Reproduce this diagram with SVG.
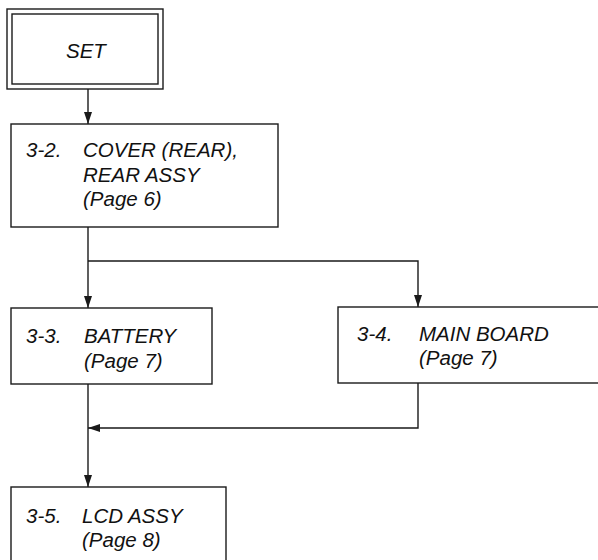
<svg xmlns="http://www.w3.org/2000/svg" width="598" height="560" viewBox="0 0 598 560">
<style>
.box{fill:#fff;stroke:#1a1a1a;stroke-width:1.4}
.ln{fill:none;stroke:#1a1a1a;stroke-width:1.4}
text{font-family:"Liberation Sans",Arial,sans-serif;font-style:italic;font-size:20.5px;fill:#111}
</style>
<defs>
<marker id="ah" markerUnits="userSpaceOnUse" markerWidth="12" markerHeight="8" refX="12" refY="4" orient="auto">
<path d="M0,0 L12,4 L0,8 Z" fill="#1a1a1a"/>
</marker>
</defs>
<g id="connectors">
<path class="ln" d="M88 89 V124" marker-end="url(#ah)"/>
<path class="ln" d="M88 227 V308" marker-end="url(#ah)"/>
<path class="ln" d="M88 261 H418 V307" marker-end="url(#ah)"/>
<path class="ln" d="M88 384 V487" marker-end="url(#ah)"/>
<path class="ln" d="M418 383 V428 H88" marker-end="url(#ah)"/>
</g>
<g id="set">
<rect class="box" x="7" y="9" width="156" height="80"/>
<rect class="box" x="12" y="14" width="146" height="70"/>
<text x="66" y="58">SET</text>
</g>
<g id="n3-2">
<rect class="box" x="11" y="124" width="267" height="103"/>
<text x="26" y="157">3-2.</text>
<text x="83" y="157">COVER (REAR),</text>
<text x="83" y="182">REAR ASSY</text>
<text x="83" y="206">(Page 6)</text>
</g>
<g id="n3-3">
<rect class="box" x="11" y="308" width="201" height="76"/>
<text x="26" y="343">3-3.</text>
<text x="84" y="343">BATTERY</text>
<text x="84" y="368">(Page 7)</text>
</g>
<g id="n3-4">
<rect class="box" x="338" y="307" width="264" height="76"/>
<text x="357" y="341">3-4.</text>
<text x="419" y="341">MAIN BOARD</text>
<text x="419" y="365">(Page 7)</text>
</g>
<g id="n3-5">
<rect class="box" x="11" y="487" width="215" height="78"/>
<text x="26" y="523">3-5.</text>
<text x="82" y="523">LCD ASSY</text>
<text x="82" y="547">(Page 8)</text>
</g>
</svg>
